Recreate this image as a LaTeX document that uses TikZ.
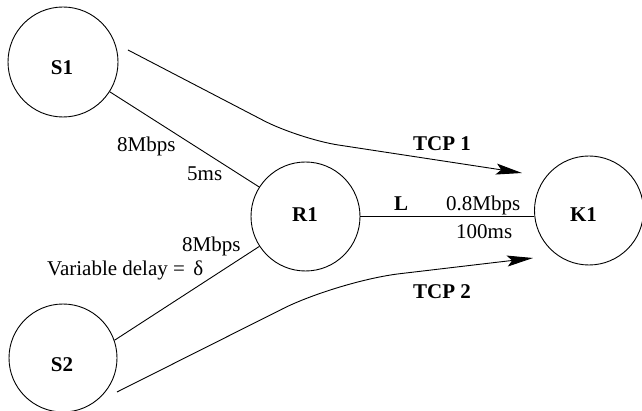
\documentclass[tikz,border=0pt]{standalone}
\usepackage{fontspec}
\setmainfont{Liberation Serif}
\usetikzlibrary{arrows.meta}
\begin{document}
\begin{tikzpicture}[x=1pt,y=-1pt,
  hostnode/.style={draw,circle,line width=0.9pt,inner sep=0pt},
  link/.style={line width=0.9pt},
  flow/.style={line width=0.9pt,-{Stealth[length=26pt,width=11pt,inset=5pt]}},
  lbl/.style={inner sep=0pt,font=\fontsize{21}{25}\selectfont},
  blbl/.style={inner sep=0pt,font=\fontsize{21}{25}\selectfont\bfseries}]
\useasboundingbox (0,0) rectangle (642,411);
% hosts
\node[hostnode,minimum size=110pt] (S1) at (63,62) {};
\node[hostnode,minimum size=108pt] (S2) at (63,358) {};
\node[hostnode,minimum size=109pt] (R1) at (305.5,216.5) {};
\node[hostnode,minimum size=109pt] (K1) at (589,210.5) {};
\node[blbl,anchor=base] (S1l) at (62,75) {S1};
\node[blbl,anchor=base] (S2l) at (62,371) {S2};
\node[blbl,anchor=base] (R1l) at (305,222) {R1};
\node[blbl,anchor=base] (K1l) at (583.5,222) {K1};
% links
\draw[link] (S1) -- (R1);
\draw[link] (S2.19) -- (R1);
\draw[link] (R1.east) -- (R1.east -| K1.west);
% link labels
\node[lbl,anchor=base west] (a1) at (117,152) {8Mbps};
\node[lbl,anchor=base west] (a2) at (187,181) {5ms};
\node[lbl,anchor=base west] (b1) at (182,252) {8Mbps};
\node[lbl,anchor=base west] (b2) at (47,276) {Variable delay =\hspace{0.4em}δ};
\node[blbl,anchor=base west] (Ll) at (394,211) {L};
\node[lbl,anchor=base west] (c1) at (446,211) {0.8Mbps};
\node[lbl,anchor=base west] (c2) at (456,239) {100ms};
% flows
\coordinate (t1s) at (128,50);
\coordinate (t1c) at (299,139);
\coordinate (t1e) at (522,173);
\coordinate (t2s) at (117,392);
\coordinate (t2c) at (338,281);
\coordinate (t2e) at (533,258);
\draw[flow,rounded corners=40pt] (t1s) -- (t1c) -- (t1e);
\draw[flow,rounded corners=62pt] (t2s) -- (t2c) -- (t2e);
\node[blbl,anchor=base west] (tcp1) at (413,151) {TCP 1};
\node[blbl,anchor=base west] (tcp2) at (413,299) {TCP 2};
\end{tikzpicture}
\end{document}
